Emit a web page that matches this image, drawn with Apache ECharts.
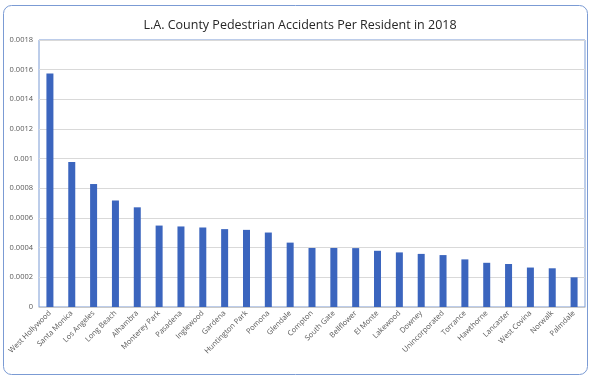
<!DOCTYPE html>
<html>
<head>
<meta charset="utf-8">
<script src="https://cdn.jsdelivr.net/npm/echarts@6/dist/echarts.min.js"></script>
<style>
  html, body { margin: 0; padding: 0; background: #fff; }
  #chart { width: 600px; height: 376px; }
</style>
</head>
<body>
<div id="chart"></div>
<script>
var cities = ['West Hollywood', 'Santa Monica', 'Los Angeles', 'Long Beach', 'Alhambra',
    'Monterey Park', 'Pasadena', 'Inglewood', 'Gardena', 'Huntington Park', 'Pomona',
    'Glendale', 'Compton', 'South Gate', 'Bellflower', 'El Monte', 'Lakewood', 'Downey',
    'Unincorporated', 'Torrance', 'Hawthorne', 'Lancaster', 'West Covina', 'Norwalk', 'Palmdale'];

var perResident = [0.001575, 0.000978, 0.000829, 0.000718, 0.000672,
    0.000549, 0.000543, 0.000536, 0.000525, 0.00052, 0.000502,
    0.000434, 0.000398, 0.000398, 0.000397, 0.000379, 0.000368, 0.000358,
    0.00035, 0.000321, 0.000298, 0.00029, 0.000266, 0.000261, 0.0002];

var titleText = 'L.A. County Pedestrian Accidents Per Resident in 2018';

var myChart = echarts.init(document.getElementById('chart'));

var option = {
    backgroundColor: '#fff',
    animation: false,
    title: {
        text: titleText,
        left: 'center',
        top: 14,
        textStyle: {
            fontFamily: 'Open Sans',
            fontSize: 12.5,
            fontWeight: 'normal',
            color: '#262626'
        }
    },
    grid: {
        left: 39,
        right: 15,
        top: 40,
        bottom: 69,
        show: true,
        borderColor: '#7b9bd4',
        borderWidth: 1
    },
    xAxis: {
        type: 'category',
        data: cities,
        axisTick: { show: false },
        axisLine: { lineStyle: { color: '#c9c9c9' } },
        axisLabel: {
            rotate: 45,
            interval: 0,
            margin: 5,
            fontFamily: 'Open Sans',
            fontSize: 7.5,
            color: '#595959'
        }
    },
    yAxis: {
        type: 'value',
        min: 0,
        max: 0.0018,
        interval: 0.0002,
        axisLine: { show: false },
        axisTick: { show: false },
        splitLine: { lineStyle: { color: '#d9d9d9' } },
        axisLabel: {
            margin: 6,
            fontFamily: 'Open Sans',
            fontSize: 7.5,
            color: '#595959',
            formatter: function (value) {
                return String(parseFloat(value.toFixed(4)));
            }
        }
    },
    graphic: [{
        type: 'rect',
        shape: { x: 3.5, y: 5.5, width: 584, height: 369, r: 8 },
        style: { fill: null, stroke: '#7b9bd4', lineWidth: 1 },
        silent: true
    }],
    series: [{
        type: 'bar',
        data: perResident,
        barWidth: 7,
        itemStyle: { color: '#3b65be' }
    }]
};
myChart.setOption(option);
</script>
</body>
</html>
